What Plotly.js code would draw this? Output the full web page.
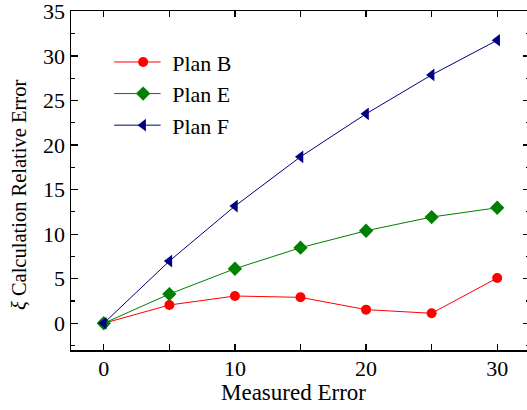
<!DOCTYPE html>
<html>
<head>
<meta charset="utf-8">
<script src="https://cdn.plot.ly/plotly-3.0.1.min.js"></script>
<style>
  html, body { margin: 0; padding: 0; overflow: hidden; background: #fff; }
  #chart { width: 531px; height: 410px; }
</style>
</head>
<body>
<div id="chart"></div>
<script>
const measuredError = [0, 5, 10, 15, 20, 25, 30];
const planB = [0, 2.05, 3.06, 2.91, 1.53, 1.12, 5.08];
const planE = [0, 3.28, 6.12, 8.48, 10.38, 11.92, 12.96];
const planF = [0, 6.98, 13.15, 18.68, 23.5, 27.87, 31.76];
const seriesNames = ["Plan B", "Plan E", "Plan F"];
const xTitle = "Measured Error";
const yTitle = "<i>ξ</i> Calculation Relative Error";

const FONT = "Liberation Serif";

const traces = [
  {x: measuredError, y: planB, name: seriesNames[0], mode: "lines+markers",
   line: {color: "#ff0000", width: 1}, marker: {symbol: "circle", size: 10, color: "#ff0000"}},
  {x: measuredError, y: planE, name: seriesNames[1], mode: "lines+markers",
   line: {color: "#008000", width: 1}, marker: {symbol: "diamond", size: 11, color: "#008000"}},
  {x: measuredError, y: planF, name: seriesNames[2], mode: "lines+markers",
   line: {color: "#000080", width: 1}, marker: {symbol: "triangle-left", size: 11, color: "#000080"}}
];

const axisCommon = {
  showgrid: false, zeroline: false, showline: true, linecolor: "#000", linewidth: 1.5,
  mirror: "ticks", ticks: "inside", tickcolor: "#000", tickwidth: 1.2,
  ticklabeloverflow: "allow",
  tickfont: {family: FONT, size: 22, color: "#000", weight: "normal"}
};

const layout = {
  width: 531, height: 410,
  margin: {l: 71, r: 1, t: 11, b: 60},
  paper_bgcolor: "#fff", plot_bgcolor: "#fff",
  font: {family: FONT, color: "#000"},
  showlegend: true,
  legend: {x: 0.094, y: 0.911, xanchor: "left", yanchor: "top",
           font: {family: FONT, size: 22, color: "#000", weight: "normal"},
           bgcolor: "rgba(0,0,0,0)", itemwidth: 48, tracegroupgap: 0},
  xaxis: Object.assign({}, axisCommon, {
    range: [-2.5, 32.5], tick0: 0, dtick: 10, ticklen: 6, ticklabelstandoff: -2,
    minor: {dtick: 5, ticklen: 6, ticks: "inside", tickcolor: "#000", tickwidth: 1.2}
  }),
  yaxis: Object.assign({}, axisCommon, {
    range: [-3, 35.04], tick0: 0, dtick: 5, ticklen: 7,
    minor: {dtick: 2.5, ticklen: 4, ticks: "inside", tickcolor: "#000", tickwidth: 1.2}
  }),
  annotations: [
    {text: xTitle, xref: "paper", yref: "paper", x: 0.485, y: -0.125, xanchor: "center", yanchor: "middle",
     showarrow: false, font: {family: FONT, size: 23, color: "#000"}},
    {text: yTitle, xref: "paper", yref: "paper", x: -0.112, y: 0.456, xanchor: "center", yanchor: "middle",
     textangle: -90, showarrow: false, font: {family: FONT, size: 20.5, color: "#000"}}
  ]
};

Plotly.newPlot("chart", traces, layout, {displayModeBar: false, staticPlot: true}).then(function (gd) {
  // lengthen the legend sample lines so the marker sits in the middle
  gd.querySelectorAll(".legend .legendlines path").forEach(function (p) {
    p.setAttribute("d", "M-6.5,0h53");
  });
  // make sure every text uses the serif face
  gd.querySelectorAll("text").forEach(function (t) {
    t.style.fontFamily = "'Liberation Serif', serif";
  });
});
</script>
</body>
</html>
